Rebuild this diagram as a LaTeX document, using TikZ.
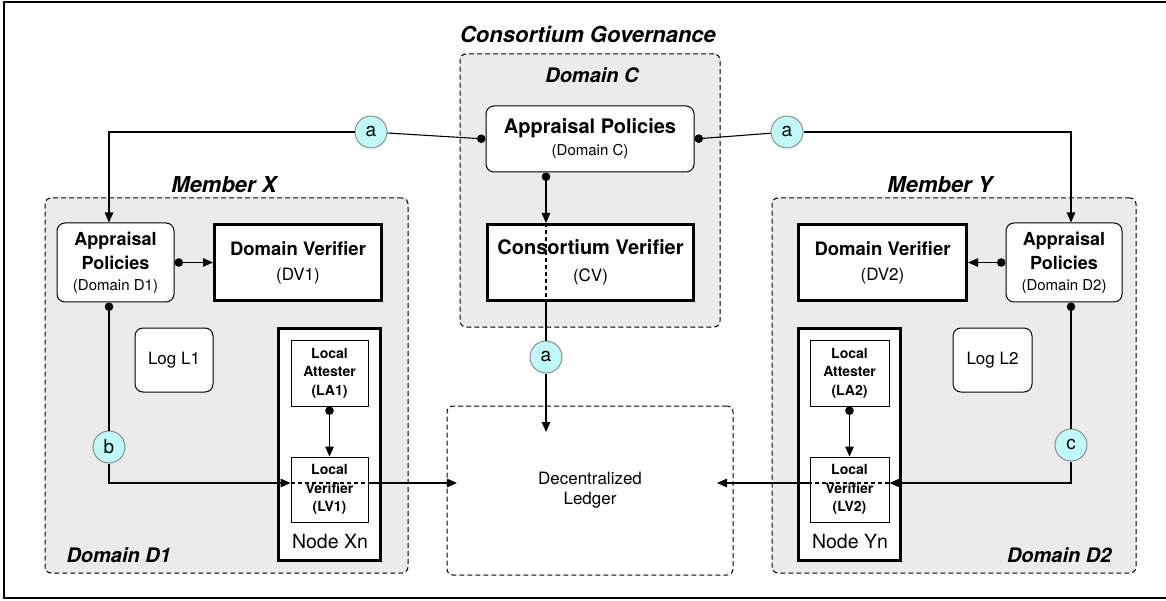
\documentclass[tikz,border=0pt]{standalone}
\usepackage{fontspec}
\setmainfont{TeX Gyre Heros}
\usetikzlibrary{arrows.meta}

\definecolor{zonegray}{RGB}{235,235,235}
\definecolor{tagcyan}{RGB}{190,248,248}
\definecolor{tagline}{RGB}{140,140,140}
\newcommand{\fsz}[2]{\fontsize{#1}{#2}\selectfont}

\begin{document}
\begin{tikzpicture}[x=1pt,y=-1pt,
    zone/.style={draw, dash pattern=on 5pt off 3pt, fill=zonegray, rounded corners=6pt, line width=1pt, inner sep=0pt},
    policy/.style={draw, fill=white, rounded corners=8pt, line width=1pt, align=center, inner sep=0pt},
    verifier/.style={draw, fill=white, line width=3pt, align=center, inner sep=0pt},
    local/.style={draw, fill=white, line width=0.9pt, align=center, inner sep=0pt, font=\fsz{14}{18.5}\bfseries},
    tag/.style={circle, draw=tagline, fill=tagcyan, line width=1pt, minimum size=32pt, inner sep=0pt, font=\fsz{19}{19}},
    title/.style={font=\fsz{22}{26}\bfseries\itshape},
    subtitle/.style={font=\fsz{20}{24}\bfseries\itshape},
    link/.style={line width=1.1pt},
    flow/.style={link, -{Triangle[length=10pt,width=8.5pt]}},
    dotlink/.style={link, {Circle[length=8.5pt]}-},
    dotflow/.style={link, {Circle[length=8.5pt]}-{Triangle[length=10pt,width=8.5pt]}}]
    \useasboundingbox (0,0) rectangle (1166,601);
    \draw[line width=1.2pt] (4,2) rectangle (1180,598);

    % domains
    \node[zone, minimum width=363pt, minimum height=375pt] (memX) at (226.5,385.5) {};
    \node[zone, minimum width=364pt, minimum height=375pt] (memY) at (954,385.5) {};
    \node[zone, minimum width=260pt, minimum height=273pt] (domC) at (590,190.5) {};
    \node[zone, fill=white, minimum width=286pt, minimum height=169pt, align=center, font=\fsz{17}{20}] (ledger) at (590,490.5) {Decentralized\\Ledger};

    \node[title] (govT) at (588,34.5) {Consortium Governance};
    \node[subtitle] (domCT) at (592,75.5) {Domain C};
    \node[title] (memXT) at (224,185) {Member X};
    \node[title] (memYT) at (940,185) {Member Y};
    \node[subtitle, anchor=west] (d1T) at (63,555) {Domain D1};
    \node[subtitle, anchor=east] (d2T) at (1115,555) {Domain D2};

    % consortium
    \node[policy, minimum width=208pt, minimum height=66pt, font=\fsz{15}{22}] (apC) at (590,139) {{\fsz{20}{22}\bfseries Appraisal Policies}\\(Domain C)};
    \node[verifier, minimum width=206pt, minimum height=76pt, font=\fsz{17}{27}] (cv) at (590.5,262.5) {{\fsz{20}{27}\bfseries Consortium Verifier}\\(CV)};

    % member X
    \node[policy, minimum width=117pt, minimum height=79pt, font=\fsz{18}{24}\bfseries] (ap1) at (115.5,262.5) {Appraisal\\Policies\\[-3pt]{\mdseries\fsz{15}{21}(Domain D1)}};
    \node[verifier, minimum width=167pt, minimum height=76pt, font=\fsz{17}{25}] (dv1) at (298,262.5) {{\fsz{18.5}{25}\bfseries Domain Verifier}\\(DV1)};
    \node[policy, minimum width=78pt, minimum height=64pt, font=\fsz{17}{20}] (log1) at (174,360) {Log L1};
    \node[verifier, minimum width=102pt, minimum height=232pt] (nodeX) at (329.5,444.5) {};
    \node[font=\fsz{19.5}{22}] (nodeXT) at (330,542) {Node Xn};
    \node[local, minimum width=77pt, minimum height=66pt] (la1) at (329.5,373) {Local\\Attester\\(LA1)};
    \node[local, minimum width=77pt, minimum height=65pt] (lv1) at (329.5,489.5) {Local\\Verifier\\(LV1)};

    % member Y
    \node[policy, minimum width=116pt, minimum height=79pt, font=\fsz{18}{24}\bfseries] (ap2) at (1064,262.5) {Appraisal\\Policies\\[-3pt]{\mdseries\fsz{15}{21}(Domain D2)}};
    \node[verifier, minimum width=168pt, minimum height=76pt, font=\fsz{17}{25}] (dv2) at (882.5,262.5) {{\fsz{18.5}{25}\bfseries Domain Verifier}\\(DV2)};
    \node[policy, minimum width=79pt, minimum height=64pt, font=\fsz{17}{20}] (log2) at (992.5,360) {Log L2};
    \node[verifier, minimum width=102pt, minimum height=232pt] (nodeY) at (849.5,444.5) {};
    \node[font=\fsz{19.5}{22}] (nodeYT) at (850,542) {Node Yn};
    \node[local, minimum width=79pt, minimum height=66pt] (la2) at (849.5,373) {Local\\Attester\\(LA2)};
    \node[local, minimum width=79pt, minimum height=65pt] (lv2) at (849.5,489.5) {Local\\Verifier\\(LV2)};

    % tags
    \node[tag] (a1) at (371,132) {a};
    \node[tag] (a2) at (787,132) {a};
    \node[tag] (a3) at (546,357) {a};
    \node[tag] (b) at (109,447) {b};
    \node[tag] (c) at (1071,445) {c};

    \coordinate (ledgerTop) at (546,432);
    \coordinate (ledgerL) at (457,483);
    \coordinate (ledgerR) at (717,483);

    % connectors
    \draw[dotlink] (apC.west) -- (a1);
    \draw[flow] (a1) -| (b |- ap1.north);
    \draw[dotlink] (apC.east) -- (a2);
    \draw[flow] (a2) -| (c |- ap2.north);
    \draw[dotflow] (a3 |- apC.south) -- (a3 |- cv.north);
    \draw[link, dash pattern=on 4pt off 3pt] (a3 |- cv.north) -- (a3 |- cv.south);
    \draw[link] (a3 |- cv.south) -- (a3);
    \draw[flow] (a3) -- (ledgerTop);

    \draw[dotflow] (ap1.east) -- (dv1.west);
    \draw[dotflow] (ap2.west) -- (dv2.east);
    \draw[dotflow] (la1.south) -- (lv1.north);
    \draw[dotflow] (la2.south) -- (lv2.north);

    \draw[dotlink] (b |- ap1.south) -- (b);
    \draw[flow] (b) |- (lv1.west |- ledgerL);
    \draw[link, dash pattern=on 4pt off 3pt] (lv1.west |- ledgerL) -- (lv1.east |- ledgerL);
    \draw[flow] (lv1.east |- ledgerL) -- (ledgerL);
    \draw[dotlink] (c |- ap2.south) -- (c);
    \draw[flow] (c) |- (lv2.east |- ledgerR);
    \draw[link, dash pattern=on 4pt off 3pt] (lv2.east |- ledgerR) -- (lv2.west |- ledgerR);
    \draw[flow] (lv2.west |- ledgerR) -- (ledgerR);
\end{tikzpicture}
\end{document}
